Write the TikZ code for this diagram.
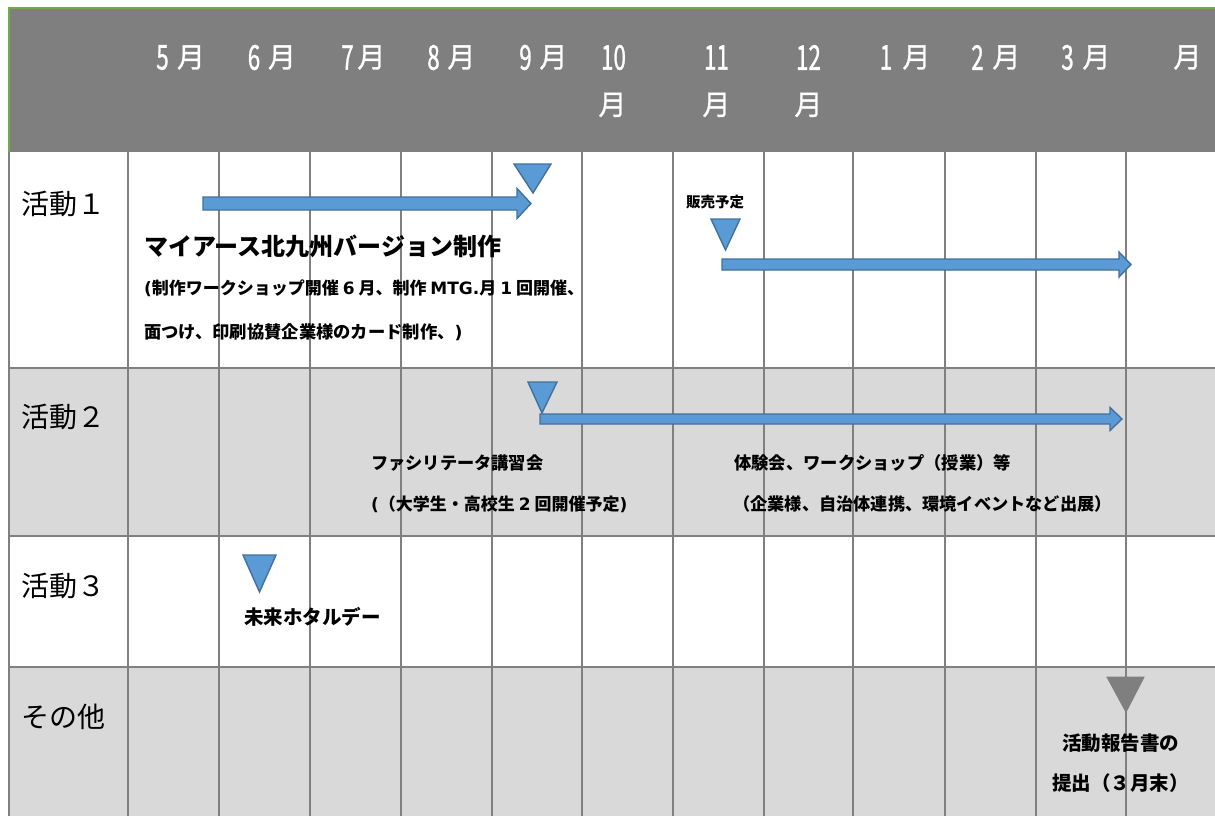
\documentclass[tikz,border=0pt]{standalone}
\usepackage{fontspec}
\setmainfont{Noto Sans CJK JP}
\newfontfamily\monfont[FakeBold=1.2]{Noto Sans CJK JP}
\newfontfamily\lat{DejaVu Sans}
\usepackage{graphicx}
\definecolor{hdrgray}{HTML}{7F7F7F}
\definecolor{rowgray}{HTML}{D9D9D9}
\definecolor{gridgray}{HTML}{808080}
\definecolor{hdrgreen}{HTML}{70AD47}
\definecolor{barblue}{HTML}{5B9BD5}
\definecolor{barline}{HTML}{41719C}
\newcommand\dg[1]{\scalebox{0.8}[1.22]{#1}}
\newcommand\lt[1]{{\lat\bfseries #1}}
\tikzset{
  gridline/.style={draw=gridgray, line width=1.6pt},
  mon/.style={text=white, inner sep=0pt, anchor=center, font=\fontsize{28}{30}\selectfont\monfont},
  rowlbl/.style={inner sep=0pt, anchor=base west, font=\fontsize{28}{30}\selectfont},
  txt/.style={inner sep=0pt, anchor=base west, font=\fontsize{#1}{#1}\selectfont\bfseries},
  bluetri/.style={fill=barblue, draw=barline, line width=1.4pt, line join=miter},
  graytri/.style={fill=hdrgray, draw=hdrgray, line width=1pt},
  bluebar/.style={fill=barblue, draw=barline, line width=1.4pt, line join=miter}
}
\begin{document}
\begin{tikzpicture}[x=1pt,y=-1pt]
\useasboundingbox (0,0) rectangle (1215,816);
\fill[white] (0,0) rectangle (1215,816);
% header
\fill[hdrgray] (8,8) rectangle (1215,152);
\draw[hdrgreen, line width=2pt] (9,152) -- (9,8) -- (1215,8);
% row fills
\fill[rowgray] (9,368) rectangle (1215,536);
\fill[rowgray] (9,667) rectangle (1215,816);
% grid
\foreach \x in {9,128,219,310,401,492,582,673,764,853,945,1036,1126}
  \draw[gridline] (\x,152) -- (\x,816);
\foreach \y in {368,536,667}
  \draw[gridline] (9,\y) -- (1215,\y);

% month headers
\node[mon] (d5) at (162.5,57.5) {\dg{5}};  \node[mon] (m5) at (191,57.5) {月};
\node[mon] (d6) at (254,57.5) {\dg{6}};    \node[mon] (m6) at (282,57.5) {月};
\node[mon] (d7) at (347.5,57.5) {\dg{7}};  \node[mon] (m7) at (371.5,57.5) {月};
\node[mon] (d8) at (433.5,57.5) {\dg{8}};  \node[mon] (m8) at (461.5,57.5) {月};
\node[mon] (d9) at (525.5,57.5) {\dg{9}};  \node[mon] (m9) at (553.5,57.5) {月};
\node[mon] (d10) at (613.5,57.5) {\dg{10}}; \node[mon] (m10) at (612.5,105) {月};
\node[mon] (d11) at (716.5,57.5) {\dg{11}}; \node[mon] (m11) at (716.5,105) {月};
\node[mon] (d12) at (808.5,57.5) {\dg{12}}; \node[mon] (m12) at (808.5,105) {月};
\node[mon] (d1) at (886,57.5) {\dg{1}};    \node[mon] (m1) at (916.5,57.5) {月};
\node[mon] (d2) at (977.5,57.5) {\dg{2}};  \node[mon] (m2) at (1006.5,57.5) {月};
\node[mon] (d3) at (1067.5,57.5) {\dg{3}}; \node[mon] (m3) at (1096.5,57.5) {月};
\node[mon] (mx) at (1187.5,57.5) {月};

% row labels
\node[rowlbl] (r1) at (21,214) {活動１};
\node[rowlbl] (r2) at (21,427.6) {活動２};
\node[rowlbl] (r3) at (21,596.6) {活動３};
\node[rowlbl] (r4) at (21,727.6) {その他};

% row 1
\filldraw[bluebar] (203,197) -- (517,197) -- (517,188.5) -- (531,203.5) -- (517,218.5) -- (517,210) -- (203,210) -- cycle;
\filldraw[bluetri] (514,164) -- (551,164) -- (533,193) -- cycle;
\node[txt=24] (t1) at (144,255) {マイアース北九州バージョン制作};
\node[txt=17] (t2) at (144,294.5) {\lt{(}制作ワークショップ開催 \lt{6} 月、制作 \lt{MTG.}月 \lt{1} 回開催、};
\node[txt=17.3] (t3) at (144,338.5) {面つけ、印刷協賛企業様のカード制作、\lt{)}};
\node[txt=14.5] (t4) at (686,207.5) {販売予定};
\filldraw[bluetri] (711,219) -- (740,219) -- (725.5,250) -- cycle;
\filldraw[bluebar] (722,259) -- (1119,259) -- (1119,252) -- (1131,264.5) -- (1119,277) -- (1119,270) -- (722,270) -- cycle;

% row 2
\filldraw[bluebar] (540,414) -- (1110,414) -- (1110,407.5) -- (1122,419) -- (1110,430.5) -- (1110,424) -- (540,424) -- cycle;
\filldraw[bluetri] (528,382) -- (557,382) -- (542,413) -- cycle;
\node[txt=17.2] (t5) at (371,469.5) {ファシリテータ講習会};
\node[txt=17] (t6) at (371,510) {\lt{(}（大学生・高校生 \lt{2} 回開催予定\lt{)}};
\node[txt=17.3] (t7) at (734,469.5) {体験会、ワークショップ（授業）等};
\node[txt=17.2] (t8) at (733,510) {（企業様、自治体連携、環境イベントなど出展）};

% row 3
\filldraw[bluetri] (243,555) -- (276,555) -- (259.5,592) -- cycle;
\node[txt=19.5] (t9) at (244,624.4) {未来ホタルデー};

% row 4
\filldraw[graytri] (1107,677) -- (1144,677) -- (1126,712) -- cycle;
\node[txt=19.5] (t10) at (1062,750.4) {活動報告書の};
\node[txt=19.5] (t11) at (1052,790.4) {提出（３月末）};
\end{tikzpicture}
\end{document}
